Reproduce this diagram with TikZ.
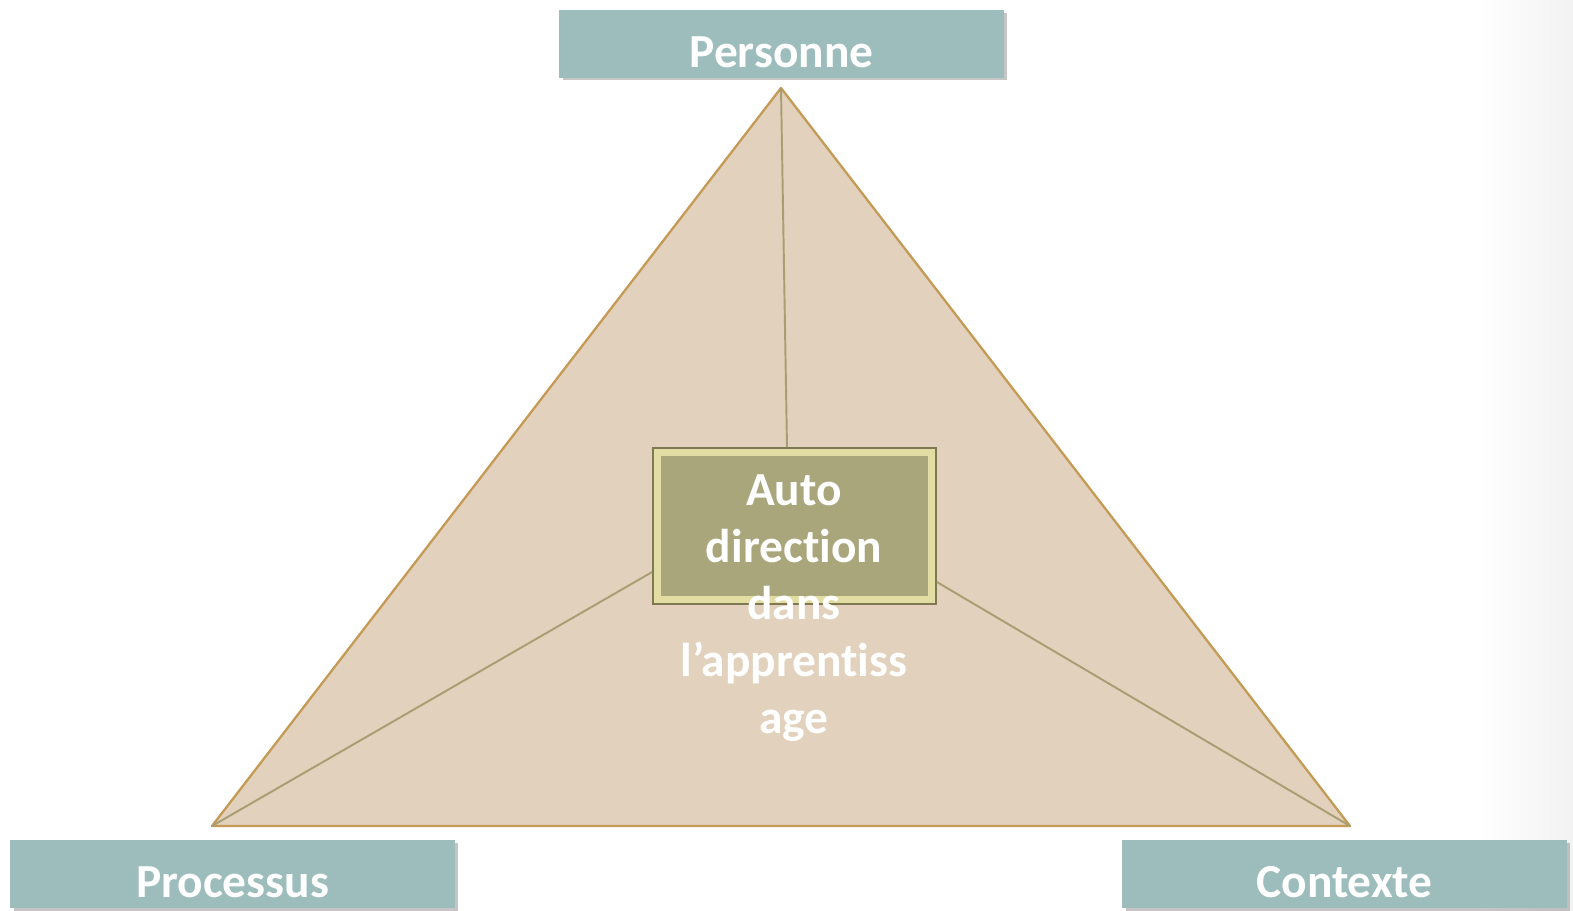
\documentclass[tikz,border=0pt]{standalone}
\usepackage{fontspec}
\setmainfont{Carlito}[Ligatures=NoCommon]
\usepackage{tikz}
\usetikzlibrary{shadows}
\definecolor{boxteal}{HTML}{9CBDBC}
\definecolor{trifill}{HTML}{E2D1BC}
\definecolor{triedge}{HTML}{C49A55}
\definecolor{spoke}{HTML}{A89E74}
\definecolor{bevel}{HTML}{E2DDA2}
\definecolor{olivebox}{HTML}{A9A67C}
\definecolor{oliveedge}{HTML}{7E7853}

\begin{document}
\begin{tikzpicture}[x=0.02cm, y=-0.02cm,
  pole/.style={fill=boxteal, minimum width=8.9cm, minimum height=1.36cm, text height=27pt, text depth=0pt,
    text=white, font=\fontsize{27}{32}\selectfont\bfseries,
    drop shadow={shadow xshift=0.07cm, shadow yshift=-0.05cm, opacity=0.45}},
  core/.style={draw=oliveedge, fill=bevel, minimum width=5.66cm, minimum height=3.12cm, line width=1pt,
    path picture={\fill[olivebox] ([shift={(0.15cm,-0.15cm)}]path picture bounding box.north west)
      rectangle ([shift={(-0.15cm,0.15cm)}]path picture bounding box.south east);}},
  spokeline/.style={draw=spoke, line width=1.1pt}]
  \fill[white] (0,0) rectangle (1480,910);
  \shade[left color=white, right color=black!5] (1480,0) rectangle (1573,910);
  \useasboundingbox (0,0) rectangle (1573,910);
  \coordinate (top) at (781,88);
  \coordinate (left) at (212,826);
  \coordinate (right) at (1350,826);
  \filldraw[fill=trifill, draw=triedge, line width=1.3pt, line join=round] (top) -- (left) -- (right) -- cycle;
  \node[pole] (personne) at (781.5,44) {Personne};
  \node[pole] (processus) at (232.5,874) {Processus};
  \node[pole] (contexte) at (1344.5,874) {Contexte};
  \node[core] (auto) at (794.5,526) {};
  \path[spokeline] (top) edge ([xshift=-0.15cm]auto.north)
                   (left) edge ([yshift=-0.92cm]auto.west)
                   (right) edge ([yshift=-1.12cm]auto.east);
  \node[text=white, align=center, font=\fontsize{27}{32.4}\selectfont\bfseries] (label) at (794,608)
    {Auto\\direction\\dans\\l’apprentiss\\age};
\end{tikzpicture}
\end{document}
